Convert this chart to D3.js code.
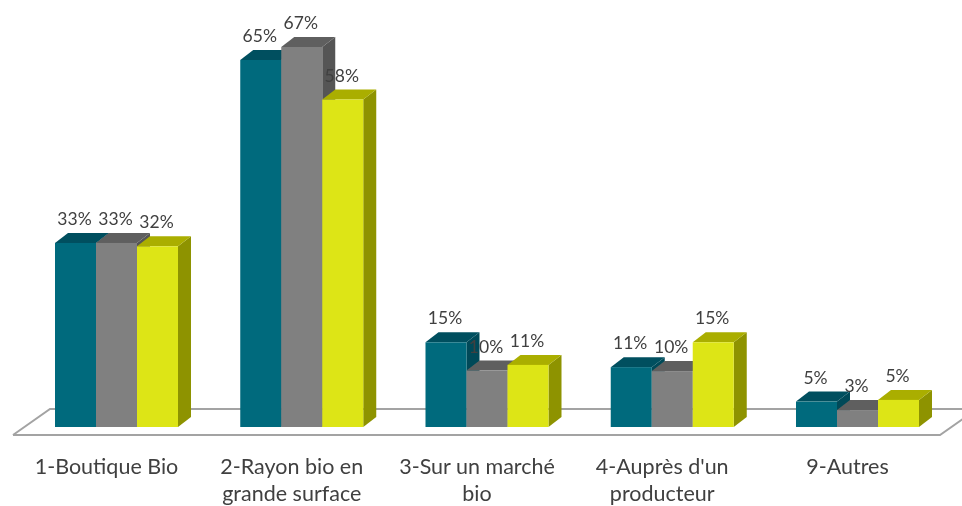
<!DOCTYPE html>
<html>
<head>
<meta charset="utf-8">
<script src="https://cdn.jsdelivr.net/npm/d3@7"></script>
<style>
  html, body { margin: 0; padding: 0; background: #fff; }
  svg { display: block; }
  text { font-family: Lato, sans-serif; fill: #404040; }
</style>
</head>
<body>
<div id="chart"></div>
<script>
const categories = ["1-Boutique Bio", "2-Rayon bio en grande surface", "3-Sur un marché bio", "4-Auprès d'un producteur", "9-Autres"];
const labelLines = [["1-Boutique Bio"], ["2-Rayon bio en", "grande surface"], ["3-Sur un marché", "bio"], ["4-Auprès d'un", "producteur"], ["9-Autres"]];
const seriesNames = ["a", "b", "c"];
// the labels show them rounded
const seriesA = [32.6, 65, 15, 10.6, 4.5];
const seriesB = [32.6, 67.3, 10, 9.9, 3];
const seriesC = [32, 58, 11, 15, 4.8];
const seriesValues = [seriesA, seriesB, seriesC];
const frontColors = ["#006b7d", "#808080", "#dde517"];
const topColors = ["#004f5f", "#5f5f5f", "#aaae00"];
const sideColors = ["#004a58", "#555555", "#8e9300"];

const width = 962;
const height = 506;
const baseY = 427;
const depthX = 13;
const depthY = -10;

const svg = d3.select("#chart").append("svg")
  .attr("width", width)
  .attr("height", height);

svg.append("defs").append("filter")
  .attr("id", "soft")
  .append("feGaussianBlur")
  .attr("stdDeviation", 0.6);

const root = svg.append("g").attr("filter", "url(#soft)");

const x0 = d3.scaleBand()
  .domain(categories)
  .range([55, 919])
  .paddingInner(0.336)
  .paddingOuter(0);

const x1 = d3.scaleBand()
  .domain(seriesNames)
  .range([0, x0.bandwidth()]);

const y = d3.scaleLinear()
  .domain([0, 67.3])
  .range([baseY, 47]);

// floor
root.append("path")
  .attr("d", d3.line()([[13, 435], [940, 435], [977, 409], [50, 409], [13, 435]]))
  .attr("fill", "#fff")
  .attr("stroke", "#a3a3a3")
  .attr("stroke-width", 2);

// bars, left to right so that each one covers the side of the previous one
const groups = root.selectAll("g.cat")
  .data(categories)
  .join("g")
  .attr("class", "cat")
  .attr("transform", d => `translate(${x0(d)},0)`);

groups.each(function(cat, c) {
  const g = d3.select(this);
  seriesNames.forEach((name, s) => {
    const v = seriesValues[s][c];
    const left = x1(name);
    const right = left + x1.bandwidth();
    const top = y(v);
    g.append("path")
      .attr("fill", sideColors[s])
      .attr("d", d3.line()([[right, top], [right + depthX, top + depthY], [right + depthX, baseY + depthY], [right, baseY]]) + "Z");
    g.append("path")
      .attr("fill", topColors[s])
      .attr("d", d3.line()([[left, top], [left + depthX, top + depthY], [right + depthX, top + depthY], [right, top]]) + "Z");
    g.append("rect")
      .attr("x", left)
      .attr("y", top)
      .attr("width", x1.bandwidth())
      .attr("height", baseY - top)
      .attr("fill", frontColors[s]);
  });
});

// value labels go on top of every bar
groups.each(function(cat, c) {
  const g = d3.select(this);
  seriesNames.forEach((name, s) => {
    const v = seriesValues[s][c];
    g.append("text")
      .attr("x", x1(name) + x1.bandwidth() / 2 - 1)
      .attr("y", y(v) - 18)
      .attr("text-anchor", "middle")
      .style("font-size", "17.5px")
      .text(Math.round(v) + "%");
  });
});

// category axis
const axis = root.append("g")
  .attr("transform", "translate(-10,441)")
  .call(d3.axisBottom(x0).tickSize(0).tickPadding(0));

axis.select(".domain").remove();

axis.selectAll(".tick text")
  .attr("y", 0)
  .attr("dy", null)
  .style("font-size", "21.5px")
  .each(function(d, i) {
    const t = d3.select(this).text(null);
    labelLines[i].forEach((line, k) => {
      t.append("tspan")
        .attr("x", 0)
        .attr("y", 33 + k * 27)
        .text(line);
    });
  });
</script>
</body>
</html>
